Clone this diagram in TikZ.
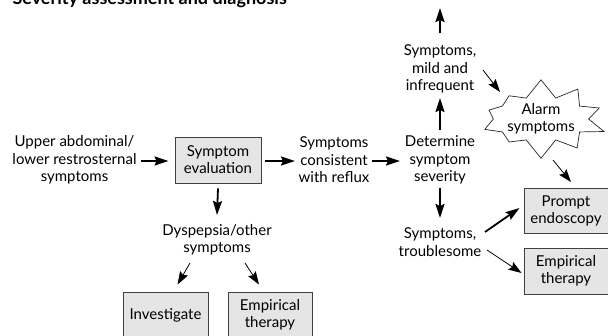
\documentclass[tikz,border=0pt]{standalone}
\usepackage{fontspec}
\setmainfont{Lato}
\usetikzlibrary{arrows.meta,calc,shapes.symbols}
\tikzset{
  txt/.style={inner sep=0pt, align=center, font=\fontsize{15}{17.5}\selectfont},
  gbox/.style={draw=black!75, fill=black!10, line width=0.9pt, inner sep=0pt,
    align=center, font=\fontsize{15}{17}\selectfont},
  arr/.style={line width=1.8pt, -{Stealth[length=14pt,width=9pt,inset=2pt]}},
  tarr/.style={line width=0.8pt, -{Stealth[length=13pt,width=9pt,inset=2pt]}}
}
\begin{document}
\begin{tikzpicture}[x=1pt,y=-1pt]
  \useasboundingbox (0,0) rectangle (608,335);
  \clip (0,0) rectangle (608,335);
  \node[anchor=base west, font=\bfseries\fontsize{18}{20}\selectfont] (title) at (9,4) {Severity assessment and diagnosis};
  \node[txt] (upper) at (74.5,160) {Upper abdominal/\\lower restrosternal\\symptoms};
  \node[gbox, minimum width=86pt, minimum height=46pt] (evalbox) at (218,160) {Symptom\\evaluation};
  \node[txt] (reflux) at (334,160) {Symptoms\\consistent\\with reflux};
  \node[txt] (severity) at (440,160) {Determine\\symptom\\severity};
  \node[txt] (mild) at (440,69) {Symptoms,\\mild and\\infrequent};
  \coordinate (top) at (440,8);
  \node[starburst, draw=black!85, fill=white, line width=0.7pt, txt, minimum width=104pt,
    minimum height=72pt, starburst points=10, starburst point height=19pt,
    random starburst=7] (alarm) at (541,119) {Alarm\\symptoms};
  \node[gbox, minimum width=84pt, minimum height=45pt] (prompt) at (566,211) {Prompt\\endoscopy};
  \node[gbox, minimum width=84pt, minimum height=46pt] (empright) at (566,271) {Empirical\\therapy};
  \node[txt] (trouble) at (440,242) {Symptoms,\\troublesome};
  \node[txt] (dysp) at (217,240) {Dyspepsia/other\\symptoms};
  \node[gbox, minimum width=85pt, minimum height=46pt] (invest) at (165.5,315) {Investigate};
  \node[gbox, minimum width=84pt, minimum height=46pt] (empleft) at (270,315) {Empirical\\therapy};

  \draw[arr] ($(upper)+(66,1)$) -- ($(evalbox.west)+(-6,1)$);
  \draw[arr] ($(evalbox.east)+(4,1)$) -- ($(reflux)+(-39,1)$);
  \draw[arr] ($(reflux)+(38,1)$) -- ($(severity)+(-40,1)$);
  \draw[arr] ($(evalbox.south)+(0,5)$) -- ($(dysp)+(0,-25)$);
  \draw[arr] ($(severity)+(0,-30)$) -- ($(mild)+(0,29)$);
  \draw[arr] ($(mild)+(0,-36)$) -- (top);
  \draw[arr] ($(severity)+(0,28)$) -- ($(trouble)+(0,-24)$);
  \draw[arr] ($(trouble)+(45,-10)$) -- ($(prompt.west)+(-4,-3)$);
  \draw[tarr] ($(trouble)+(47,8)$) -- ($(empright.west)+(-2,2)$);
  \draw[tarr] ($(mild)+(43,1)$) -- ($(alarm)+(-41,-27)$);
  \draw[tarr] ($(alarm)+(12,41)$) -- ($(prompt.north)+(5,-6)$);
  \draw[tarr] ($(dysp)+(-27,23)$) -- ($(invest.north)+(12,-7)$);
  \draw[tarr] ($(dysp)+(28,23)$) -- ($(empleft.north)+(-11,-7)$);
\end{tikzpicture}
\end{document}
